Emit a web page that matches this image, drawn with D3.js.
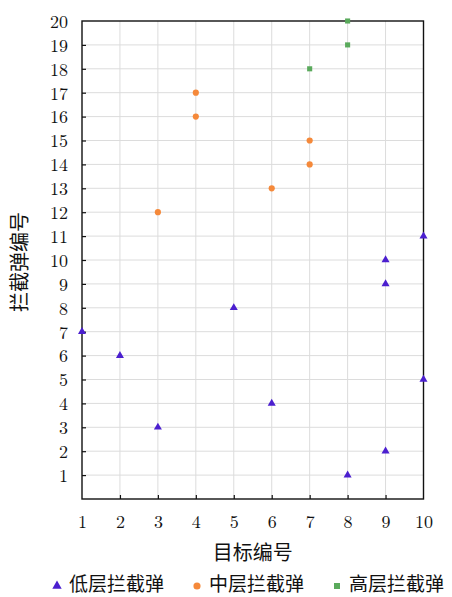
<!DOCTYPE html>
<html>
<head>
<meta charset="utf-8">
<script src="https://cdn.jsdelivr.net/npm/d3@7"></script>
<style>
  html, body { margin: 0; padding: 0; background: #fff; }
  svg { display: block; }
  .num { font-family: "Latin Modern Roman", "DejaVu Serif", "Liberation Serif", serif; font-size: 18px; fill: #111; }
  .cjk { font-family: "Noto Sans CJK SC", sans-serif; font-size: 20px; fill: #111; }
  .leg { font-size: 19px; }
</style>
</head>
<body>
<svg id="chart" width="452" height="597"></svg>
<script>
// Data
const lowTargets  = [1, 2, 3, 5, 6, 8, 9, 9, 9, 10, 10];
const lowMissiles = [7, 6, 3, 8, 4, 1, 2, 9, 10, 11, 5];
const midTargets  = [3, 4, 4, 6, 7, 7];
const midMissiles = [12, 16, 17, 13, 14, 15];
const highTargets  = [7, 8, 8];
const highMissiles = [18, 19, 20];
const xTicks = [1, 2, 3, 4, 5, 6, 7, 8, 9, 10];
const yTicks = d3.range(1, 21);
const seriesNames = ['低层拦截弹', '中层拦截弹', '高层拦截弹'];

const COLORS = ['#4b1fcf', '#f5893a', '#5aaa5c'];
const SHAPES = [d3.symbolTriangle, d3.symbolCircle, d3.symbolSquare];
const SIZES  = [28, 30, 26];

const svg = d3.select('#chart');
const m = { left: 82, right: 423.5, top: 21, bottom: 499 };

const x = d3.scaleLinear().domain([1, 10]).range([m.left, m.right]);
const y = d3.scaleLinear().domain([0, 20]).range([m.bottom, m.top]);

// grid
const grid = svg.append('g');
grid.selectAll('.gx').data(xTicks.slice(1, -1)).join('line')
  .attr('x1', d => x(d)).attr('x2', d => x(d))
  .attr('y1', m.top).attr('y2', m.bottom)
  .attr('stroke', '#dcdcdc').attr('stroke-width', 1);
grid.selectAll('.gy').data(yTicks.slice(0, -1)).join('line')
  .attr('x1', m.left).attr('x2', m.right)
  .attr('y1', d => y(d)).attr('y2', d => y(d))
  .attr('stroke', '#dcdcdc').attr('stroke-width', 1);

// frame
svg.append('rect')
  .attr('x', m.left).attr('y', m.top)
  .attr('width', m.right - m.left).attr('height', m.bottom - m.top)
  .attr('fill', 'none').attr('stroke', '#111').attr('stroke-width', 1.4);

// axes with inward ticks
const xAxis = d3.axisBottom(x).tickValues(xTicks).tickSize(-4).tickPadding(16).tickFormat(d3.format('d'));
const gx = svg.append('g').attr('transform', `translate(0,${m.bottom})`).call(xAxis);
const yAxis = d3.axisLeft(y).tickValues(yTicks).tickSize(-4).tickPadding(14).tickFormat(d3.format('d'));
const gy = svg.append('g').attr('transform', `translate(${m.left},0)`).call(yAxis);
[gx, gy].forEach(g => {
  g.select('.domain').remove();
  g.selectAll('.tick line').attr('stroke', '#111').attr('stroke-width', 1.2);
  g.selectAll('.tick text').attr('class', 'num').attr('fill', null).style('font-size', null);
  g.attr('font-family', null).attr('font-size', null);
});
gx.selectAll('.tick line').filter(d => d === 1 || d === 10).remove();
gy.selectAll('.tick line').filter(d => d === 20).remove();
gx.selectAll('.tick text').attr('dy', '0.71em');
gy.selectAll('.tick text').attr('dy', '0.35em');

// axis titles
svg.append('text').attr('class', 'cjk')
  .attr('x', (m.left + m.right) / 2).attr('y', 560)
  .attr('text-anchor', 'middle').text('目标编号');
svg.append('text').attr('class', 'cjk')
  .attr('transform', `translate(27,${(m.top + m.bottom) / 2 + 2}) rotate(-90)`)
  .attr('text-anchor', 'middle').text('拦截弹编号');

// points
const series = [
  lowTargets.map((t, i) => ({ x: t, y: lowMissiles[i] })),
  midTargets.map((t, i) => ({ x: t, y: midMissiles[i] })),
  highTargets.map((t, i) => ({ x: t, y: highMissiles[i] }))
];
series.forEach((pts, s) => {
  svg.append('g').selectAll('path').data(pts).join('path')
    .attr('transform', d => `translate(${x(d.x)},${y(d.y)})`)
    .attr('d', d3.symbol().type(SHAPES[s]).size(SIZES[s]))
    .attr('fill', COLORS[s]);
});

// legend
const legX = [57, 197, 337];
const leg = svg.append('g');
seriesNames.forEach((name, i) => {
  leg.append('path')
    .attr('transform', `translate(${legX[i]},586)`)
    .attr('d', d3.symbol().type(SHAPES[i]).size(SIZES[i] + 10))
    .attr('fill', COLORS[i]);
  leg.append('text').attr('class', 'cjk leg')
    .attr('x', legX[i] + 12).attr('y', 591).text(name);
});
</script>
</body>
</html>
